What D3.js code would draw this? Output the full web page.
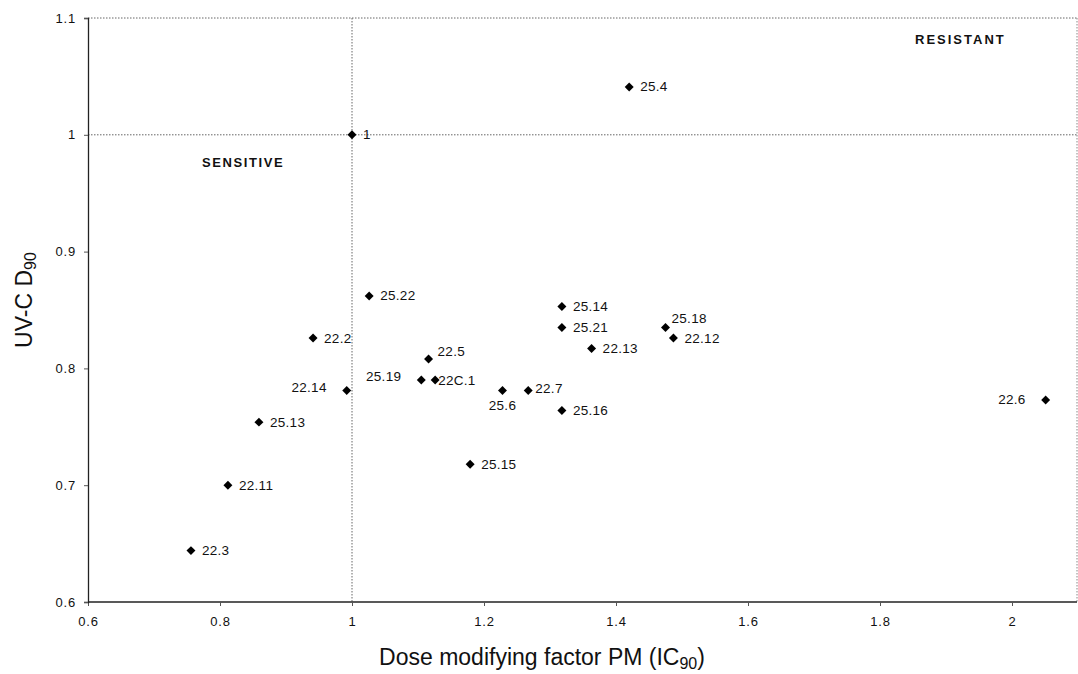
<!DOCTYPE html>
<html>
<head>
<meta charset="utf-8">
<script src="https://cdn.jsdelivr.net/npm/d3@7"></script>
<style>
  html, body { margin: 0; padding: 0; background: #fff; }
  svg { display: block; font-family: "Liberation Sans", Arial, Helvetica, sans-serif; }
</style>
</head>
<body>
<svg id="chart" width="1078" height="674"></svg>
<script>
// Strain identifiers
const strains = ["1", "25.4", "25.22", "22.2", "22.14", "25.13", "22.11", "22.3",
  "22.5", "25.19", "22C.1", "25.6", "22.7", "25.14", "25.21", "22.13",
  "25.16", "25.15", "25.18", "22.12", "22.6"];
// Dose modifying factor PM (IC90)
const doseFactor = [1.0, 1.42, 1.026, 0.941, 0.992, 0.859, 0.812, 0.756,
  1.116, 1.105, 1.126, 1.228, 1.267, 1.318, 1.318, 1.363,
  1.318, 1.179, 1.475, 1.487, 2.051];
// UV-C D90
const uvcD90 = [1.0, 1.041, 0.862, 0.826, 0.781, 0.754, 0.700, 0.644,
  0.808, 0.790, 0.790, 0.781, 0.781, 0.853, 0.835, 0.817,
  0.764, 0.718, 0.835, 0.826, 0.773];
// Axis ticks
const xTicks = [0.6, 0.8, 1, 1.2, 1.4, 1.6, 1.8, 2];
const yTicks = [0.6, 0.7, 0.8, 0.9, 1, 1.1];
// Reference threshold dividing sensitive / resistant strains
const threshold = 1;

// Label placement: [dx, dy, anchor]; default is to the right of the marker
const labelPlace = {
  "22.14": [-20, -3, "end"],
  "25.19": [-20, -4, "end"],
  "22.6":  [-20, 0, "end"],
  "25.6":  [0, 15, "middle"],
  "25.18": [6, -9, "start"],
  "22.5":  [9, -8, "start"],
  "22C.1": [3, 0, "start"],
  "22.7":  [7, -2, "start"]
};

const svg = d3.select("#chart");
const plotLeft = 88, plotRight = 1077, plotTop = 18, plotBottom = 602;

const x = d3.scaleLinear().domain([0.6, 2.1]).range([plotLeft, plotLeft + 990]);
const y = d3.scaleLinear().domain([0.6, 1.1]).range([plotBottom, plotTop]);

const dotted = { stroke: "#666", width: 1, dash: "1.5,1.5" };

// Plot area border (top and right)
svg.append("line").attr("x1", plotLeft).attr("x2", plotRight).attr("y1", plotTop).attr("y2", plotTop)
  .attr("stroke", dotted.stroke).attr("stroke-width", dotted.width).attr("stroke-dasharray", dotted.dash);
svg.append("line").attr("x1", plotRight).attr("x2", plotRight).attr("y1", plotTop).attr("y2", plotBottom)
  .attr("stroke", "#888").attr("stroke-width", dotted.width).attr("stroke-dasharray", dotted.dash);

// Threshold cross lines
svg.append("line").attr("x1", plotLeft).attr("x2", plotRight)
  .attr("y1", y(threshold)).attr("y2", y(threshold))
  .attr("stroke", dotted.stroke).attr("stroke-width", dotted.width).attr("stroke-dasharray", dotted.dash);
svg.append("line").attr("x1", x(threshold)).attr("x2", x(threshold))
  .attr("y1", plotTop).attr("y2", plotBottom)
  .attr("stroke", dotted.stroke).attr("stroke-width", dotted.width).attr("stroke-dasharray", dotted.dash);

// Axes
const xAxis = svg.append("g").attr("transform", `translate(0,${plotBottom})`)
  .call(d3.axisBottom(x).tickValues(xTicks).tickSize(4).tickPadding(11).tickFormat(d => String(d)));
const yAxis = svg.append("g").attr("transform", `translate(${plotLeft},0)`)
  .call(d3.axisLeft(y).tickValues(yTicks).tickSize(4).tickPadding(8).tickFormat(d => String(d)));

[xAxis, yAxis].forEach(g => {
  g.select(".domain").attr("stroke", "#222").attr("stroke-width", 1.3);
  g.selectAll(".tick line").attr("stroke", "#555");
  g.selectAll(".tick text").attr("fill", "#111").attr("font-size", 13)
    .attr("letter-spacing", "0.8px")
    .attr("font-family", '"Liberation Sans", Arial, sans-serif');
});
xAxis.select(".domain").attr("d", `M${plotLeft},0H${plotRight}`);

// Axis titles
const xTitle = svg.append("text").attr("x", 542).attr("y", 665)
  .attr("text-anchor", "middle").attr("font-size", 23).attr("fill", "#111");
xTitle.append("tspan").text("Dose modifying factor PM (IC");
xTitle.append("tspan").attr("font-size", 16).attr("dy", 4).text("90");
xTitle.append("tspan").attr("dy", -4).text(")");

const yTitle = svg.append("text")
  .attr("transform", "translate(32,300) rotate(-90)")
  .attr("text-anchor", "middle").attr("font-size", 23).attr("fill", "#111");
yTitle.append("tspan").text("UV-C D");
yTitle.append("tspan").attr("font-size", 16).attr("dy", 4).text("90");

// Region labels
svg.append("text").attr("x", 202).attr("y", 167)
  .attr("font-size", 13).attr("font-weight", "bold").attr("letter-spacing", "1.6px")
  .attr("fill", "#111").text("SENSITIVE");
svg.append("text").attr("x", 915).attr("y", 44)
  .attr("font-size", 13).attr("font-weight", "bold").attr("letter-spacing", "2px")
  .attr("fill", "#111").text("RESISTANT");

// Points
const points = strains.map((s, i) => ({ name: s, dx: doseFactor[i], d90: uvcD90[i] }));
const marker = d3.symbol().type(d3.symbolSquare).size(40);

svg.append("g").selectAll("path").data(points).join("path")
  .attr("d", marker)
  .attr("transform", d => `translate(${x(d.dx)},${y(d.d90)}) rotate(45)`)
  .attr("fill", "#000");

svg.append("g").selectAll("text").data(points).join("text")
  .attr("x", d => x(d.dx) + (labelPlace[d.name] ? labelPlace[d.name][0] : 11))
  .attr("y", d => y(d.d90) + (labelPlace[d.name] ? labelPlace[d.name][1] : 0))
  .attr("text-anchor", d => labelPlace[d.name] ? labelPlace[d.name][2] : "start")
  .attr("dominant-baseline", "central")
  .attr("font-size", 13.5).attr("letter-spacing", "0.3px").attr("fill", "#111")
  .text(d => d.name);
</script>
</body>
</html>
